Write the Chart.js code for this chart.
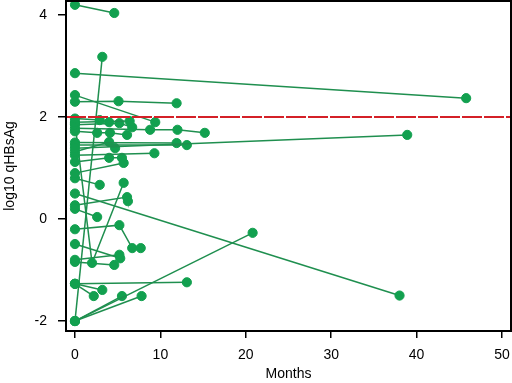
<!DOCTYPE html>
<html>
<head>
<meta charset="utf-8">
<script src="https://cdn.jsdelivr.net/npm/chart.js@4"></script>
<style>body{margin:0;background:#fff}</style>
</head>
<body>
<canvas id="chart" width="512" height="383"></canvas>
<script>
// one entry per patient: months of each measurement and log10 qHBsAg at that time
const patientMonths = [
    [0, 4.6], [0, 45.8], [0, 5.1, 11.9], [0, 9.4], [0, 2.9, 4.0], [0, 6.4],
    [0, 5.2, 6.7], [0, 8.8, 12, 15.2], [0, 2.6, 4.1, 6.1], [0, 38.9], [0, 13.1], [0, 11.9],
    [0, 4.0, 4.7], [0, 9.3], [0, 4.0, 5.5], [0, 5.7], [0, 2.9], [0, 38.0],
    [0, 2.6], [0, 2.0, 5.7], [0, 5.2, 6.7, 7.7], [0, 5.3], [0, 5.2], [0, 2.2],
    [0, 13.1], [0, 3.2], [0, 7.8], [0, 20.8], [0, 5.5], [0, 3.2], [0, 4.6], [0, 6.1, 6.2]
];
const patientValues = [
    [4.2, 4.04], [2.86, 2.37], [2.3, 2.31, 2.27], [2.43, 1.9], [1.97, 1.94, 1.9], [1.9, 1.92],
    [1.85, 1.88, 1.8], [1.78, 1.75, 1.75, 1.69], [1.72, 1.69, 1.69, 1.65], [1.39, 1.65], [1.45, 1.45], [1.5, 1.49],
    [1.32, 1.51, 1.39], [1.25, 1.29], [1.12, 1.2, 1.2], [0.9, 1.1], [0.8, 0.67], [0.5, -1.5],
    [0.2, 0.04], [1.88, -0.86, 0.71], [-0.2, -0.12, -0.57, -0.57], [-0.49, -0.77], [-0.8, -0.7], [-1.27, -1.51],
    [-1.27, -1.24], [-2.0, 3.18], [-2.0, -1.51], [-2.0, -0.27], [-2.0, -1.51], [-1.27, -1.39], [-0.84, -0.9], [0.27, 0.43, 0.35]
];
const xTicks = [0, 10, 20, 30, 40, 50];
const yTicks = [-2, 0, 2, 4];
const cutoff = 2;
const xRange = [-1.05, 51.05];
const yRange = [-2.195, 4.275];

const green = '#12a04f';
const lineGreen = '#1f8f4f';

const datasets = patientMonths.map((months, i) => ({
    data: months.map((m, j) => ({ x: m, y: patientValues[i][j] })),
    borderColor: lineGreen,
    borderWidth: 1.5,
    backgroundColor: green,
    pointBackgroundColor: green,
    pointBorderColor: green,
    pointBorderWidth: 1,
    pointRadius: 4.6,
    showLine: true,
    order: 1
}));

datasets.push({
    data: [{ x: xRange[0], y: cutoff }, { x: xRange[1], y: cutoff }],
    borderColor: '#d42027',
    borderWidth: 2,
    borderDash: [20, 2],
    pointRadius: 0,
    showLine: true,
    order: 0
});

const framePlugin = {
    id: 'frame',
    afterDatasetsDraw(chart) {
        const a = chart.chartArea;
        const ctx = chart.ctx;
        ctx.save();
        ctx.strokeStyle = '#000';
        ctx.lineWidth = 2;
        ctx.strokeRect(a.left, a.top, a.right - a.left, a.bottom - a.top);
        ctx.restore();
    }
};

// fixed axis sizes, no extra room for half tick labels at the ends
function fixX(axis) {
    axis.paddingLeft = 0;
    axis.paddingRight = 0;
    axis.height = 52;
}
function fixY(axis) {
    axis.paddingTop = 0;
    axis.paddingBottom = 0;
    axis.width = 64;
}

const font = { family: 'Liberation Sans', size: 14 };

new Chart(document.getElementById('chart'), {
    type: 'scatter',
    data: { datasets: datasets },
    options: {
        responsive: false,
        animation: false,
        layout: { autoPadding: false, padding: { top: 1, right: 1, left: 2, bottom: 0 } },
        plugins: { legend: { display: false }, tooltip: { enabled: false } },
        scales: {
            x: {
                type: 'linear',
                min: xRange[0],
                max: xRange[1],
                afterBuildTicks: axis => { axis.ticks = xTicks.map(v => ({ value: v })); },
                afterFit: fixX,
                grid: { drawOnChartArea: false, drawTicks: true, tickLength: 7, color: '#000', lineWidth: 1.5 },
                border: { display: false },
                ticks: { color: '#000', font: font, padding: 9, maxRotation: 0 },
                title: { display: true, text: 'Months', color: '#000', font: font, padding: 0 }
            },
            y: {
                type: 'linear',
                min: yRange[0],
                max: yRange[1],
                afterBuildTicks: axis => { axis.ticks = yTicks.map(v => ({ value: v })); },
                afterFit: fixY,
                grid: { drawOnChartArea: false, drawTicks: true, tickLength: 8, color: '#000', lineWidth: 1.5 },
                border: { display: false },
                ticks: { color: '#000', font: font, padding: 11 },
                title: { display: true, text: 'log10 qHBsAg', color: '#000', font: font, padding: 0 }
            }
        }
    },
    plugins: [framePlugin]
});
</script>
</body>
</html>
